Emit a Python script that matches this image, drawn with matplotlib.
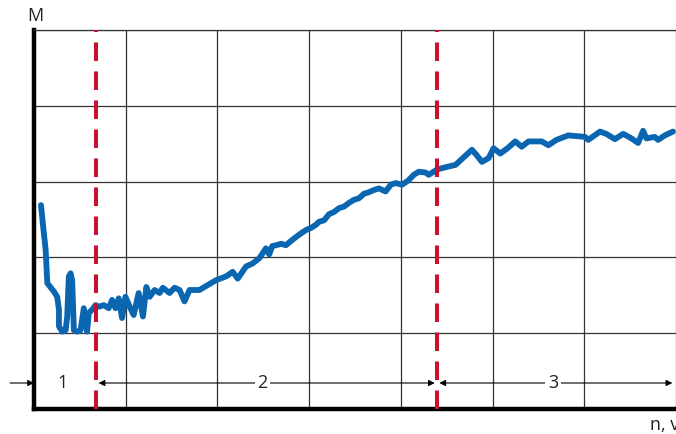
import matplotlib
matplotlib.use("Agg")
import matplotlib.pyplot as plt

plt.rcParams["font.family"] = ["Open Sans", "DejaVu Sans"]

# curve (grid units: x 0..7, y 0..5)
curve_x = [0.076, 0.098, 0.127, 0.145, 0.217, 0.253, 0.272, 0.272, 0.308, 0.345, 0.362, 0.380,
           0.399, 0.416, 0.435, 0.471, 0.508, 0.543, 0.579, 0.598, 0.634, 0.671, 0.707, 0.761,
           0.815, 0.851, 0.888, 0.924, 0.960, 0.997, 1.051, 1.087, 1.141, 1.188, 1.225, 1.261,
           1.315, 1.370, 1.405, 1.478, 1.533, 1.587, 1.641, 1.696, 1.804, 1.859, 1.986, 2.095,
           2.166, 2.221, 2.312, 2.384, 2.457,
           2.529, 2.565, 2.598, 2.638, 2.696, 2.747, 2.815, 2.891, 2.964, 3.022,
           3.073, 3.109, 3.163, 3.217, 3.272, 3.326, 3.380, 3.435, 3.489, 3.543, 3.598, 3.652,
           3.707, 3.761, 3.834, 3.891, 3.942, 4.014, 4.087, 4.141, 4.196, 4.269, 4.304, 4.395,
           4.489, 4.595, 4.685, 4.775, 4.826, 4.884, 4.957, 5.011, 5.084, 5.163, 5.247, 5.318,
           5.391, 5.536, 5.609, 5.696, 5.826, 6.008, 6.043, 6.171, 6.239, 6.334, 6.424, 6.500,
           6.587, 6.641, 6.677, 6.768, 6.804, 6.880, 6.967]
curve_y = [2.69, 2.43, 2.10, 1.66, 1.55, 1.48, 1.31, 1.09, 1.02, 1.04, 1.22, 1.75,
           1.79, 1.70, 1.04, 1.02, 1.04, 1.33, 1.02, 1.27, 1.31, 1.37, 1.35, 1.37,
           1.33, 1.44, 1.33, 1.46, 1.20, 1.48, 1.33, 1.24, 1.53, 1.22, 1.61, 1.48,
           1.57, 1.53, 1.60, 1.53, 1.60, 1.57, 1.42, 1.57, 1.57, 1.61, 1.70, 1.75,
           1.81, 1.72, 1.88, 1.92, 1.99,
           2.12, 2.04, 2.15, 2.16, 2.18, 2.16, 2.23, 2.30, 2.36, 2.39,
           2.43, 2.47, 2.49, 2.57, 2.60, 2.65, 2.67, 2.72, 2.76, 2.78, 2.84, 2.86,
           2.89, 2.91, 2.87, 2.96, 2.98, 2.96, 3.02, 3.09, 3.13, 3.12, 3.09, 3.16,
           3.19, 3.22, 3.32, 3.42, 3.35, 3.26, 3.31, 3.44, 3.37, 3.44, 3.53, 3.46,
           3.53, 3.53, 3.48, 3.55, 3.61, 3.59, 3.55, 3.66, 3.63, 3.56, 3.63, 3.58,
           3.51, 3.67, 3.57, 3.59, 3.55, 3.61, 3.66]

# zone boundaries (red dashed lines) and zone labels
boundaries = [0.674, 4.39]
zone_labels = ["1", "2", "3"]
zone_label_x = [0.315, 2.49, 5.66]

fig = plt.figure(figsize=(6.76, 4.34), dpi=100)
ax = fig.add_axes([34 / 676, 25 / 434, 1 - 34 / 676, 379 / 434])
ax.set_xlim(0, 7)
ax.set_ylim(0, 5)

for s in ["left", "bottom"]:
    ax.spines[s].set_linewidth(3.2)
    ax.spines[s].set_color("black")
ax.spines["top"].set_linewidth(0.9)
ax.spines["top"].set_color("#333333")
ax.spines["right"].set_visible(False)
ax.set_xticks(range(0, 8))
ax.set_yticks(range(0, 6))
ax.tick_params(length=0, labelbottom=False, labelleft=False)
ax.grid(True, color="#333333", linewidth=0.9)
ax.set_axisbelow(True)

ax.plot(curve_x, curve_y, color="#0a66b0", linewidth=4.2, solid_joinstyle="round",
        solid_capstyle="round", zorder=3)

for b in boundaries:
    ax.axvline(b, color="#cc1130", linewidth=2.9, dashes=(4.6, 2.6), zorder=4)

row_y = 0.343
ap = dict(arrowstyle="-|>", color="black", lw=0.8, mutation_scale=9, shrinkA=0, shrinkB=0)
ap2 = dict(arrowstyle="<|-|>", color="black", lw=0.8, mutation_scale=9, shrinkA=0, shrinkB=0)
ax.annotate("", xy=(0.0, row_y), xytext=(-0.26, row_y), arrowprops=ap, annotation_clip=False)
ax.annotate("", xy=(boundaries[0] + 0.03, row_y), xytext=(boundaries[1] - 0.02, row_y),
            arrowprops=ap2, annotation_clip=False)
ax.annotate("", xy=(boundaries[1] + 0.03, row_y), xytext=(6.96, row_y),
            arrowprops=ap2, annotation_clip=False)

for lab, lx in zip(zone_labels, zone_label_x):
    ax.text(lx, row_y, lab, ha="center", va="center", fontsize=13, color="#222222",
            bbox=dict(boxstyle="square,pad=0.15", fc="white", ec="none"), zorder=5)

fig.text(27 / 676, 1 - 16 / 434, "M", ha="left", va="center", fontsize=13, color="#222222")
fig.text(650 / 676, 9 / 434, "n, v", ha="left", va="center", fontsize=13, color="#222222")

fig.savefig("out.png", dpi=100)
